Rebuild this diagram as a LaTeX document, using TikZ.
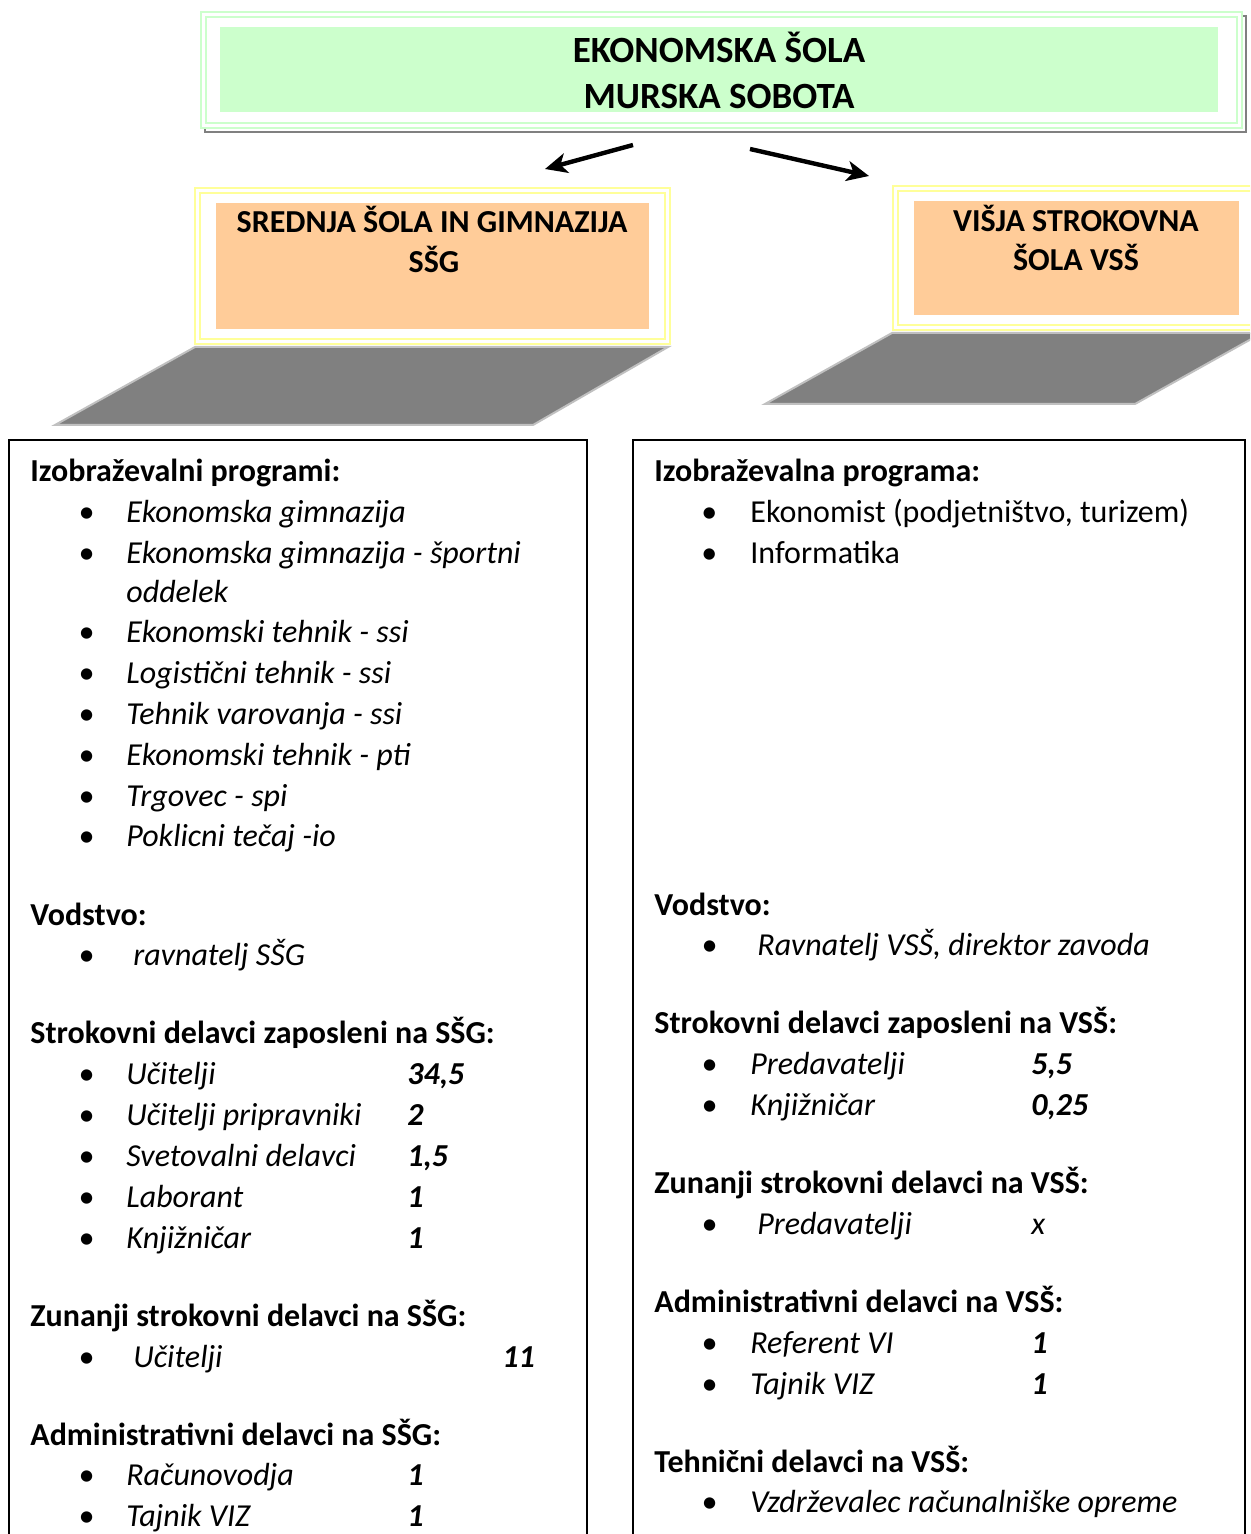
\documentclass[tikz,border=0pt]{standalone}
\usepackage{fontspec}
\setmainfont{Carlito}
\usetikzlibrary{arrows.meta}

\definecolor{zelena}{HTML}{CCFFCC}
\definecolor{rumena}{HTML}{FFFF99}
\definecolor{oranzna}{HTML}{FFCC99}
\definecolor{siva}{HTML}{808080}
\definecolor{svetlosiva}{HTML}{C0C0C0}

\newcommand{\tocka}[1][24pt]{\makebox[#1][l]{\textbullet}}

\tikzset{
naslov/.style={font=\fontsize{18.5}{23}\selectfont\bfseries,anchor=base,inner sep=0},
enota/.style={font=\fontsize{16}{20}\selectfont\bfseries,anchor=base,inner sep=0},
glava/.style={font=\fontsize{16}{20}\selectfont\bfseries,anchor=base west,inner sep=0},
postavka/.style={font=\fontsize{16}{20}\selectfont\itshape,anchor=base west,inner sep=0},
navadna/.style={font=\fontsize{16}{20}\selectfont,anchor=base west,inner sep=0},
stevilo/.style={font=\fontsize{16}{20}\selectfont\bfseries\itshape,anchor=base west,inner sep=0},
okvir/.style={draw=black,line width=1pt},
dvojna/.style={line width=1pt,double=white,double distance=1.5pt},
ploskev/.style={fill=siva,draw=svetlosiva,line width=1pt},
puscica/.style={line width=2.2pt,-{Stealth[length=11pt,width=10pt,inset=3pt]}}
}

\begin{document}
\begin{tikzpicture}[x=0.5pt,y=-0.5pt]
\useasboundingbox (0,0) rectangle (1250,1534);
\clip (0,0) rectangle (1250,1534);

% glavna enota
\draw[siva,dvojna] (207.5,18.5) rectangle (1243.5,129.5);
\filldraw[fill=white,draw=zelena,dvojna] (203.5,14.5) rectangle (1239.5,125.5);
\fill[zelena] (220,27) rectangle (1218,112);
\node[naslov] (sola1) at (719,63) {EKONOMSKA ŠOLA};
\node[naslov] (sola2) at (719,109) {MURSKA SOBOTA};

% puscici
\coordinate (zacL) at (633,145);
\coordinate (konL) at (545,169);
\coordinate (zacD) at (750,149);
\coordinate (konD) at (869,176);
\draw[puscica] (zacL) -- (konL);
\draw[puscica] (zacD) -- (konD);

% SSG
\filldraw[fill=white,draw=rumena,dvojna] (197.5,190.5) rectangle (667.5,341.5);
\fill[oranzna] (216,203) rectangle (649,329);
\node[enota] (ssg1) at (432,233) {SREDNJA ŠOLA IN GIMNAZIJA};
\node[enota] (ssg2) at (434,273) {SŠG};
\draw[ploskev] (195,347) -- (668,347) -- (533,425) -- (55,425) -- cycle;

% VSS
\filldraw[fill=white,draw=rumena,dvojna] (895.5,188.5) rectangle (1262,327.5);
\fill[oranzna] (914,201) rectangle (1239,315);
\node[enota] (vss1) at (1076,232) {VIŠJA STROKOVNA};
\node[enota] (vss2) at (1076,271) {ŠOLA VSŠ};
\draw[ploskev] (892,333) -- (1262,333) -- (1135,404) -- (765,404) -- cycle;

% levi stolpec
\draw[okvir] (9,440) rectangle (587,1560);
\node[glava] (izoL) at (30,481) {Izobraževalni programi:};
\node[postavka] (pL1) at (78,522) {\tocka Ekonomska gimnazija};
\node[postavka] (pL2) at (78,563) {\tocka Ekonomska gimnazija - športni};
\node[postavka] (pL2b) at (126,602) {oddelek};
\node[postavka] (pL3) at (78,642) {\tocka Ekonomski tehnik - ssi};
\node[postavka] (pL4) at (78,683) {\tocka Logistični tehnik - ssi};
\node[postavka] (pL5) at (78,724) {\tocka Tehnik varovanja - ssi};
\node[postavka] (pL6) at (78,765) {\tocka Ekonomski tehnik - pti};
\node[postavka] (pL7) at (78,806) {\tocka Trgovec - spi};
\node[postavka] (pL8) at (78,846) {\tocka Poklicni tečaj -io};

\node[glava] (vodL) at (30,925) {Vodstvo:};
\node[postavka] (vL1) at (78,965) {\tocka[27.5pt]ravnatelj SŠG};

\node[glava] (strL) at (30,1043) {Strokovni delavci zaposleni na SŠG:};
\node[postavka] (sL1) at (78,1084) {\tocka Učitelji};
\node[stevilo] (sL1n) at (407,1084) {34,5};
\node[postavka] (sL2) at (78,1125) {\tocka Učitelji pripravniki};
\node[stevilo] (sL2n) at (407,1125) {2};
\node[postavka] (sL3) at (78,1166) {\tocka Svetovalni delavci};
\node[stevilo] (sL3n) at (407,1166) {1,5};
\node[postavka] (sL4) at (78,1207) {\tocka Laborant};
\node[stevilo] (sL4n) at (407,1207) {1};
\node[postavka] (sL5) at (78,1248) {\tocka Knjižničar};
\node[stevilo] (sL5n) at (407,1248) {1};

\node[glava] (zunL) at (30,1326) {Zunanji strokovni delavci na SŠG:};
\node[postavka] (zL1) at (78,1367) {\tocka[27.5pt]Učitelji};
\node[stevilo] (zL1n) at (502,1367) {11};

\node[glava] (admL) at (30,1445) {Administrativni delavci na SŠG:};
\node[postavka] (aL1) at (78,1485) {\tocka Računovodja};
\node[stevilo] (aL1n) at (407,1485) {1};
\node[postavka] (aL2) at (78,1526) {\tocka Tajnik VIZ};
\node[stevilo] (aL2n) at (407,1526) {1};

% desni stolpec
\draw[okvir] (633,440) rectangle (1245,1560);
\node[glava] (izoD) at (654,481) {Izobraževalna programa:};
\node[navadna] (pD1) at (701,522) {\tocka[24.5pt]Ekonomist (podjetništvo, turizem)};
\node[navadna] (pD2) at (701,563) {\tocka[24.5pt]Informatika};

\node[glava] (vodD) at (654,915) {Vodstvo:};
\node[postavka] (vD1) at (701,955) {\tocka[28pt]Ravnatelj VSŠ, direktor zavoda};

\node[glava] (strD) at (654,1033) {Strokovni delavci zaposleni na VSŠ:};
\node[postavka] (sD1) at (701,1074) {\tocka[24.5pt]Predavatelji};
\node[stevilo] (sD1n) at (1031,1074) {5,5};
\node[postavka] (sD2) at (701,1115) {\tocka[24.5pt]Knjižničar};
\node[stevilo] (sD2n) at (1031,1115) {0,25};

\node[glava] (zunD) at (654,1193) {Zunanji strokovni delavci na VSŠ:};
\node[postavka] (zD1) at (701,1234) {\tocka[28pt]Predavatelji};
\node[postavka] (zD1n) at (1031,1234) {x};

\node[glava] (admD) at (654,1312) {Administrativni delavci na VSŠ:};
\node[postavka] (aD1) at (701,1353) {\tocka[24.5pt]Referent VI};
\node[stevilo] (aD1n) at (1031,1353) {1};
\node[postavka] (aD2) at (701,1394) {\tocka[24.5pt]Tajnik VIZ};
\node[stevilo] (aD2n) at (1031,1394) {1};

\node[glava] (tehD) at (654,1472) {Tehnični delavci na VSŠ:};
\node[postavka] (tD1) at (701,1512) {\tocka[24.5pt]Vzdrževalec računalniške opreme};
\end{tikzpicture}
\end{document}
